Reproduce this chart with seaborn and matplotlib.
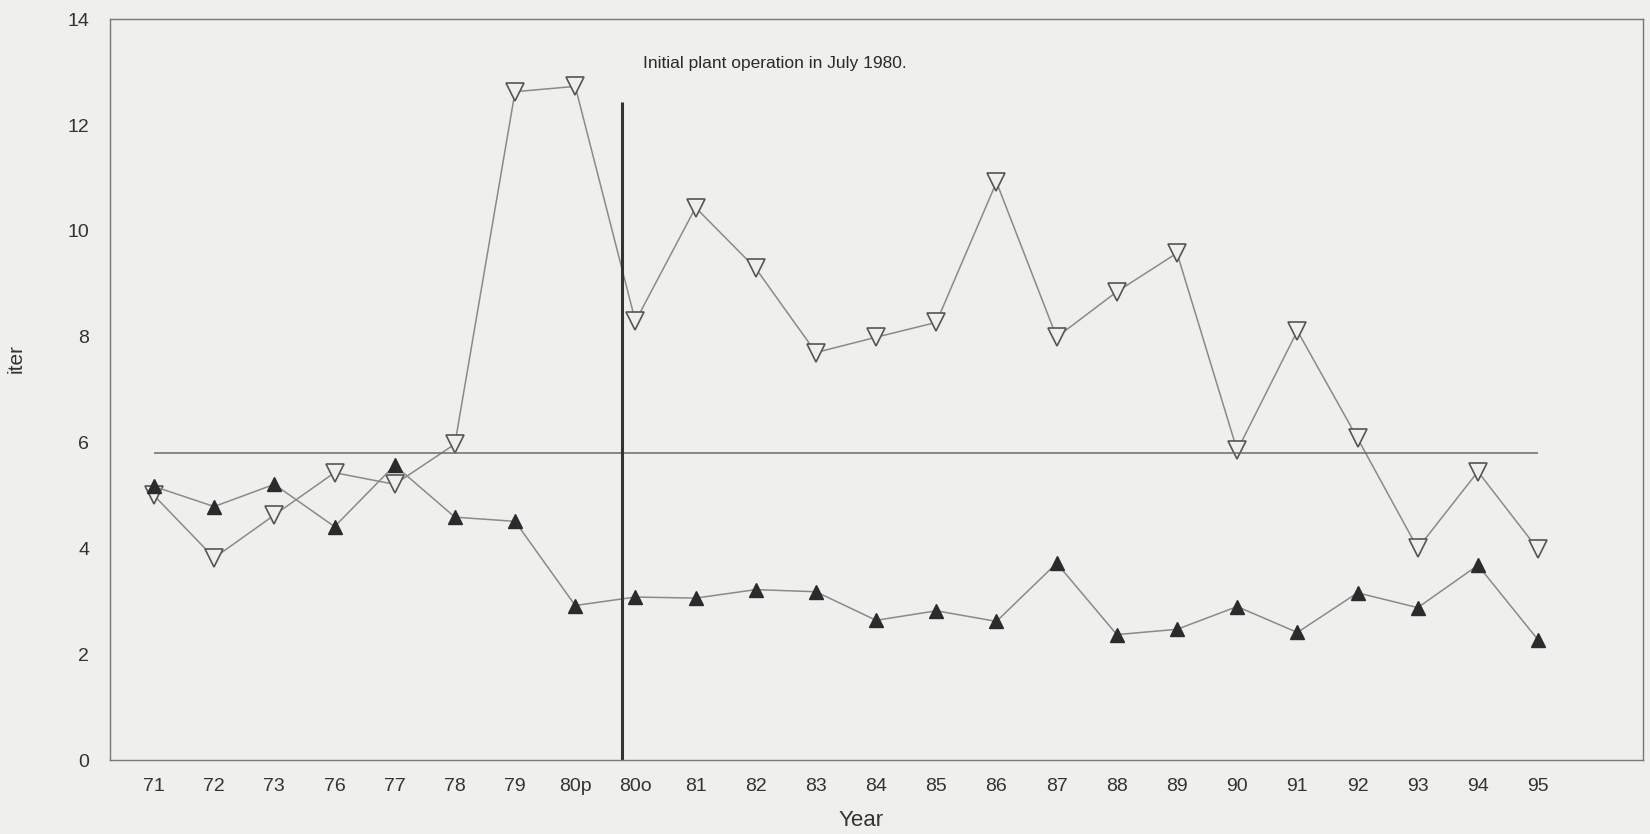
import numpy as np
import pandas as pd
import seaborn as sns
import matplotlib.pyplot as plt

# data
years = ["71", "72", "73", "76", "77", "78", "79", "80p", "80o", "81", "82", "83",
         "84", "85", "86", "87", "88", "89", "90", "91", "92", "93", "94", "95"]
open_tri = [5.0, 3.82, 4.63, 5.43, 5.21, 5.97, 12.63, 12.73, 8.29, 10.44, 9.29, 7.70,
            7.99, 8.27, 10.92, 7.99, 8.85, 9.58, 5.85, 8.11, 6.08, 4.0, 5.45, 3.98]
filled_tri = [5.17, 4.79, 5.21, 4.41, 5.57, 4.59, 4.51, 2.92, 3.08, 3.06, 3.22, 3.18,
              2.64, 2.82, 2.62, 3.72, 2.37, 2.47, 2.90, 2.41, 3.16, 2.88, 3.68, 2.27]
ref_level = 5.8
start_x = 7.78      # plant start, between 80p and 80o
start_top = 12.43

sns.set_style("white")
plt.rcParams['font.family'] = ['Liberation Sans', 'DejaVu Sans']

bg = '#efefed'
df = pd.DataFrame({"pos": np.arange(len(years)), "open": open_tri, "filled": filled_tri})

fig = plt.figure(figsize=(16.5, 8.34), dpi=100, facecolor=bg)
ax = fig.add_axes([0.0667, 0.0887, 0.9293, 0.8883])
ax.set_facecolor(bg)

sns.lineplot(data=df, x="pos", y="open", ax=ax, color='#8a8a8a', lw=1.1,
             marker='v', ms=13, mfc=bg, mec='#555555', mew=1.2)
sns.lineplot(data=df, x="pos", y="filled", ax=ax, color='#8a8a8a', lw=1.1,
             marker='^', ms=10, mfc='#2b2b2b', mec='#2b2b2b', mew=1)

ax.hlines(ref_level, 0, len(years) - 1, color='#6a6a6a', lw=1.1)
ax.vlines(start_x, 0, start_top, color='#333333', lw=2.2)
ax.text(start_x + 0.35, 13.16, "Initial plant operation in July 1980.",
        fontsize=12.5, color='#2a2a2a', va='center')

ax.set_xlim(-0.73, 24.75)
ax.set_ylim(0, 14)
ax.set_xticks(df["pos"])
ax.set_xticklabels(years)
ax.set_yticks(range(0, 15, 2))
ax.tick_params(axis='both', direction='in', length=9, width=1, color='#666666',
               labelsize=14, labelcolor='#333333')
ax.tick_params(axis='x', pad=13)
ax.tick_params(axis='y', pad=15)

for s in ax.spines.values():
    s.set_color('#777777')
    s.set_linewidth(1)

ax.set_xlabel("Year", fontsize=16, color='#333333')
ax.xaxis.set_label_coords(0.4896, -0.068)
ax.set_ylabel("iter", fontsize=15, color='#333333')
ax.yaxis.set_label_coords(-0.055, 0.5425)

plt.savefig('out.png', dpi=100, facecolor=bg)
